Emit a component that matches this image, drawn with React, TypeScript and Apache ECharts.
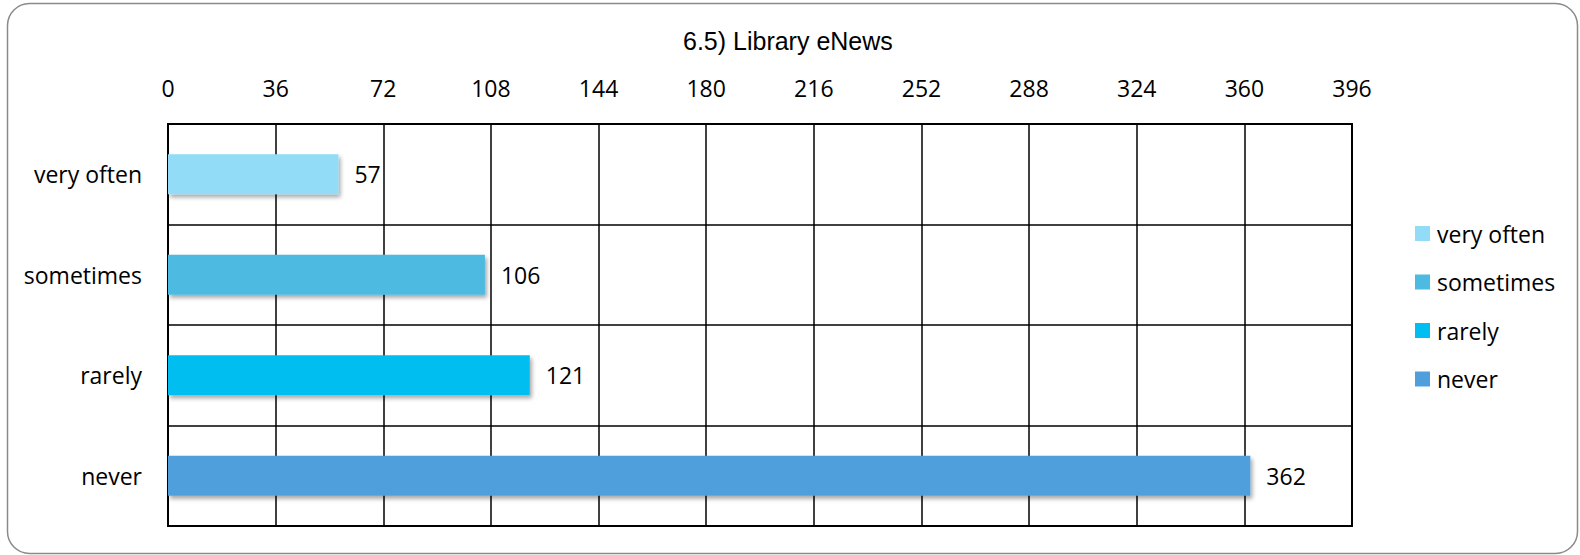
import React, { useEffect, useRef } from "react";
import * as echarts from "echarts";

const categories = ["very often", "sometimes", "rarely", "never"];
const values = [57, 106, 121, 362];
const colors = ["#92DCF7", "#4DBAE2", "#00BEF0", "#4F9FDC"];
const tickMin = 0;
const tickMax = 396;
const tickStep = 36;
const titleText = "6.5) Library eNews";

export default function App() {
  const ref = useRef<HTMLDivElement>(null);
  useEffect(() => {
    if (!ref.current) return;
    const chart = echarts.init(ref.current, null, { renderer: "svg" });
    const font = "'Open Sans', 'Noto Sans', sans-serif";
    const series = categories.map((name, i) => ({
      name,
      type: "bar",
      stack: "total",
      barWidth: 40,
      data: categories.map((_, j) => (j === i ? values[i] : "-")),
      itemStyle: {
        color: colors[i],
        shadowColor: "rgba(0,0,0,0.35)",
        shadowBlur: 4,
        shadowOffsetX: 2,
        shadowOffsetY: 3,
      },
      label: {
        show: true,
        position: "right",
        distance: 16,
        color: "#000",
        fontSize: 23,
        fontFamily: font,
      },
    }));
    chart.setOption({
      animation: false,
      backgroundColor: "#fff",
      title: {
        text: titleText,
        left: 683,
        top: 28,
        padding: 0,
        textStyle: {
          fontFamily: "'Liberation Sans', Arial, sans-serif",
          fontSize: 25,
          fontWeight: "normal",
          color: "#000",
        },
      },
      legend: {
        orient: "vertical",
        left: 1415,
        top: 222,
        itemWidth: 15,
        itemHeight: 15,
        itemGap: 25.5,
        icon: "rect",
        padding: 0,
        data: categories,
        textStyle: {
          fontFamily: font,
          fontSize: 23,
          color: "#000",
          lineHeight: 23,
          padding: [0, 0, 0, 2],
        },
      },
      graphic: [
        {
          type: "rect",
          shape: { x: 7.5, y: 3.5, width: 1570, height: 550, r: 22 },
          style: { fill: "none", stroke: "#8a8a8a", lineWidth: 1.5 },
          silent: true,
          z: -1,
        },
      ],
      grid: {
        left: 168,
        top: 124,
        width: 1184,
        height: 402,
        show: true,
        borderColor: "#000",
        borderWidth: 2,
        backgroundColor: "transparent",
      },
      xAxis: {
        type: "value",
        position: "top",
        min: tickMin,
        max: tickMax,
        interval: tickStep,
        axisLine: { show: false },
        axisTick: { show: false },
        splitLine: { show: true, lineStyle: { color: "#000", width: 1.5 } },
        axisLabel: {
          margin: 25,
          color: "#000",
          fontSize: 23,
          fontFamily: font,
        },
      },
      yAxis: {
        type: "category",
        inverse: true,
        data: categories,
        axisLine: { show: false },
        axisTick: { show: false },
        splitLine: { show: true, lineStyle: { color: "#000", width: 1.5 } },
        axisLabel: {
          margin: 26,
          color: "#000",
          fontSize: 23,
          fontFamily: font,
        },
      },
      series,
    });
    return () => chart.dispose();
  }, []);
  return (
    <div
      ref={ref}
      style={{ position: "fixed", left: 0, top: 0, width: 1580, height: 555 }}
    />
  );
}
